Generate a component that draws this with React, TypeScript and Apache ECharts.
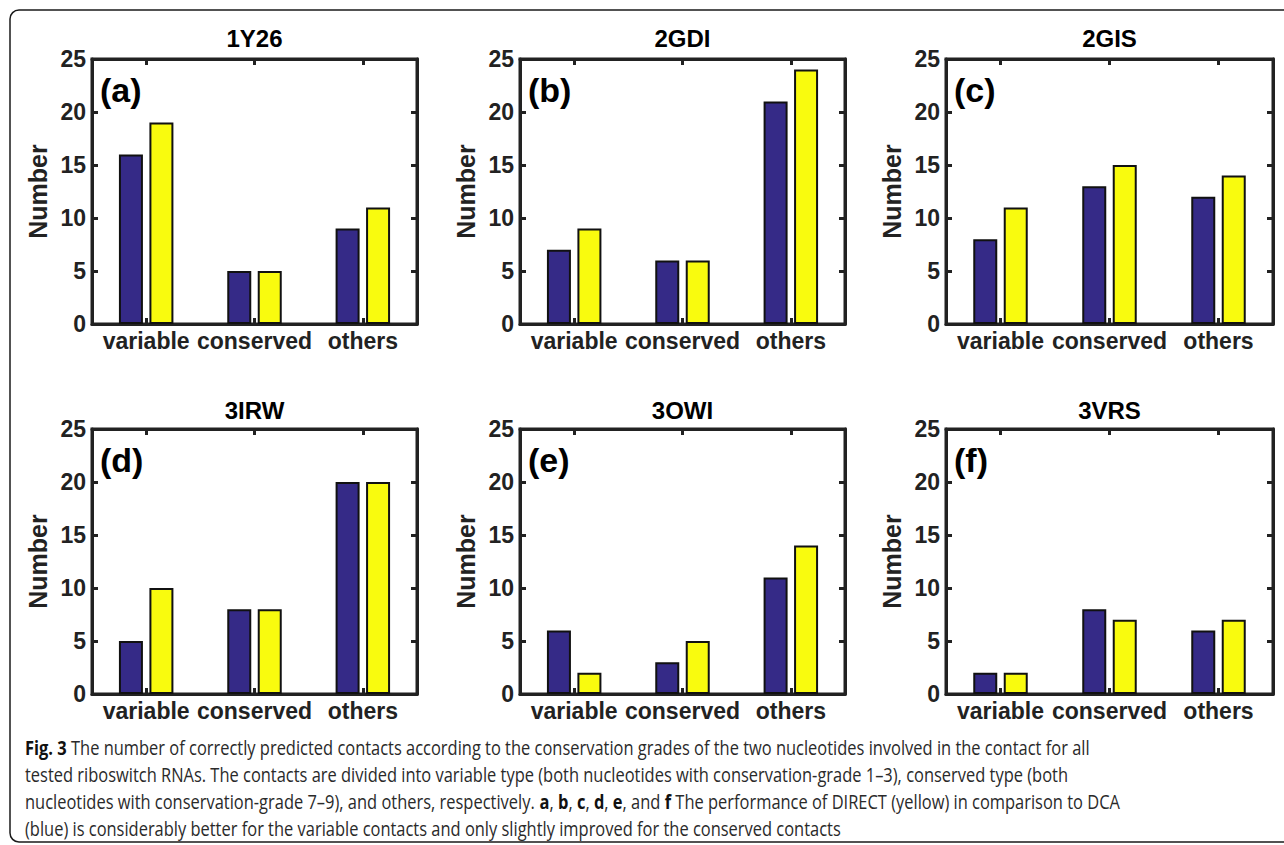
import React, { useEffect, useRef } from "react";
import * as echarts from "echarts";

const categories = ["variable", "conserved", "others"];
const panelTitles = ["1Y26", "2GDI", "2GIS", "3IRW", "3OWI", "3VRS"];
const panelTags = ["(a)", "(b)", "(c)", "(d)", "(e)", "(f)"];
const dcaValues = [
  [16, 5, 9],
  [7, 6, 21],
  [8, 13, 12],
  [5, 8, 20],
  [6, 3, 11],
  [2, 8, 6],
];
const directValues = [
  [19, 5, 11],
  [9, 6, 24],
  [11, 15, 14],
  [10, 8, 20],
  [2, 5, 14],
  [2, 7, 7],
];
const yMin = 0;
const yMax = 25;
const yInterval = 5;
const yAxisName = "Number";

type Seg = { t: string; b?: boolean };
const captionLines: Seg[][] = [
  [
    { t: "Fig. 3", b: true },
    { t: " The number of correctly predicted contacts according to the conservation grades of the two nucleotides involved in the contact for all" },
  ],
  [
    { t: "tested riboswitch RNAs. The contacts are divided into variable type (both nucleotides with conservation-grade 1\u20133), conserved type (both" },
  ],
  [
    { t: "nucleotides with conservation-grade 7\u20139), and others, respectively. " },
    { t: "a", b: true },
    { t: ", " },
    { t: "b", b: true },
    { t: ", " },
    { t: "c", b: true },
    { t: ", " },
    { t: "d", b: true },
    { t: ", " },
    { t: "e", b: true },
    { t: ", and " },
    { t: "f", b: true },
    { t: " The performance of DIRECT (yellow) in comparison to DCA" },
  ],
  [
    { t: "(blue) is considerably better for the variable contacts and only slightly improved for the conserved contacts" },
  ],
];

// layout (pixels)
const colLeft = [92, 520, 946];
const colWidth = [325, 325, 327];
const rowTop = [59, 429];
const gridHeight = 265;
const titleY = [38, 410];
const axisColor = "#222222";
const axisWidth = 3;
const blue = "#352A87";
const yellow = "#F9FB0E";
const figFont = "'Liberation Sans', Arial, Helvetica, sans-serif";
const capFont = "'Open Sans', 'Noto Sans', sans-serif";
const capSize = 20;
const capX = 25;
const capY = [746.5, 773.5, 800.5, 827.5];
const capEnds = [1092, 1053, 1105, 865];

const mkLine = () => ({ show: true, onZero: false, lineStyle: { color: axisColor, width: axisWidth } });
const mkTick = () => ({
  show: true,
  inside: true,
  alignWithLabel: true,
  length: 6,
  lineStyle: { color: axisColor, width: axisWidth },
});

export default function App() {
  const ref = useRef<HTMLDivElement>(null);

  useEffect(() => {
    if (!ref.current) return;
    const chart = echarts.init(ref.current, undefined, { renderer: "svg" });

    const cv = document.createElement("canvas").getContext("2d")!;
    const measure = (segs: Seg[]) =>
      segs.reduce((acc, s) => {
        cv.font = `${s.b ? "bold " : ""}${capSize}px ${capFont}`;
        return acc + cv.measureText(s.t).width;
      }, 0);
    let sc = 0;
    captionLines.forEach((segs, i) => {
      sc += (capEnds[i] - capX) / measure(segs);
    });
    sc /= captionLines.length;

    const grids: any[] = [];
    const xAxes: any[] = [];
    const yAxes: any[] = [];
    const series: any[] = [];
    const graphics: any[] = [];

    graphics.push({
      type: "rect",
      shape: { x: 10, y: 10, width: 1300, height: 832, r: 9 },
      style: { fill: "transparent", stroke: "#1a1a1a", lineWidth: 1.5 },
      silent: true,
      z: -10,
    });

    for (let i = 0; i < 6; i++) {
      const r = Math.floor(i / 3);
      const c = i % 3;
      grids.push({
        left: colLeft[c],
        top: rowTop[r],
        width: colWidth[c],
        height: gridHeight,
        show: true,
        borderColor: axisColor,
        borderWidth: axisWidth,
        backgroundColor: "transparent",
      });
      xAxes.push({
        type: "category",
        gridIndex: i,
        data: categories,
        position: "bottom",
        axisLine: mkLine(),
        axisTick: mkTick(),
        axisLabel: {
          color: axisColor,
          fontSize: 23,
          fontWeight: "bold",
          fontFamily: figFont,
          margin: 5,
          interval: 0,
        },
      });
      xAxes.push({
        type: "category",
        gridIndex: i,
        data: categories,
        position: "top",
        axisLine: mkLine(),
        axisTick: mkTick(),
        axisLabel: { show: false },
      });
      yAxes.push({
        type: "value",
        gridIndex: i,
        position: "left",
        min: yMin,
        max: yMax,
        interval: yInterval,
        axisLine: mkLine(),
        axisTick: mkTick(),
        splitLine: { show: false },
        axisLabel: {
          color: axisColor,
          fontSize: 23,
          fontWeight: "bold",
          fontFamily: figFont,
          margin: 6,
        },
        name: yAxisName,
        nameLocation: "middle",
        nameGap: 42,
        nameTextStyle: {
          color: axisColor,
          fontSize: 25,
          fontWeight: "bold",
          fontFamily: figFont,
        },
      });
      yAxes.push({
        type: "value",
        gridIndex: i,
        position: "right",
        min: yMin,
        max: yMax,
        interval: yInterval,
        axisLine: mkLine(),
        axisTick: mkTick(),
        splitLine: { show: false },
        axisLabel: { show: false },
      });
      series.push({
        type: "bar",
        name: "DCA",
        xAxisIndex: 2 * i,
        yAxisIndex: 2 * i,
        data: dcaValues[i],
        barWidth: 24,
        barGap: "27%",
        itemStyle: { color: blue, borderColor: "#111", borderWidth: 2 },
      });
      series.push({
        type: "bar",
        name: "DIRECT",
        xAxisIndex: 2 * i,
        yAxisIndex: 2 * i,
        data: directValues[i],
        barWidth: 24,
        barGap: "27%",
        itemStyle: { color: yellow, borderColor: "#111", borderWidth: 2 },
      });

      graphics.push({
        type: "text",
        x: colLeft[c] + colWidth[c] / 2,
        y: titleY[r],
        style: {
          text: panelTitles[i],
          fontSize: 24,
          fontWeight: "bold",
          fontFamily: figFont,
          fill: "#000",
          align: "center",
          verticalAlign: "middle",
        },
      });
      graphics.push({
        type: "text",
        x: colLeft[c] + 8,
        y: rowTop[r] + 31,
        style: {
          text: panelTags[i],
          fontSize: 34,
          fontWeight: "bold",
          fontFamily: figFont,
          fill: "#000",
          align: "left",
          verticalAlign: "middle",
        },
      });
    }

    captionLines.forEach((segs, i) => {
      const text = segs.map((s) => (s.b ? `{b|${s.t}}` : `{n|${s.t}}`)).join("");
      graphics.push({
        type: "text",
        x: capX,
        y: capY[i],
        scaleX: sc,
        style: {
          text,
          fontSize: capSize,
          fontFamily: capFont,
          fill: "#2a2a2a",
          align: "left",
          verticalAlign: "middle",
          rich: {
            n: { fontSize: capSize, fontFamily: capFont, fontWeight: "normal", fill: "#2a2a2a" },
            b: { fontSize: capSize, fontFamily: capFont, fontWeight: "bold", fill: "#111" },
          },
        },
      });
    });

    chart.setOption({
      animation: false,
      backgroundColor: "#ffffff",
      grid: grids,
      xAxis: xAxes,
      yAxis: yAxes,
      series,
      graphic: graphics,
    });

    return () => chart.dispose();
  }, []);

  return (
    <div
      ref={ref}
      style={{ position: "fixed", left: 0, top: 0, width: 1284, height: 845, background: "#fff" }}
    />
  );
}
